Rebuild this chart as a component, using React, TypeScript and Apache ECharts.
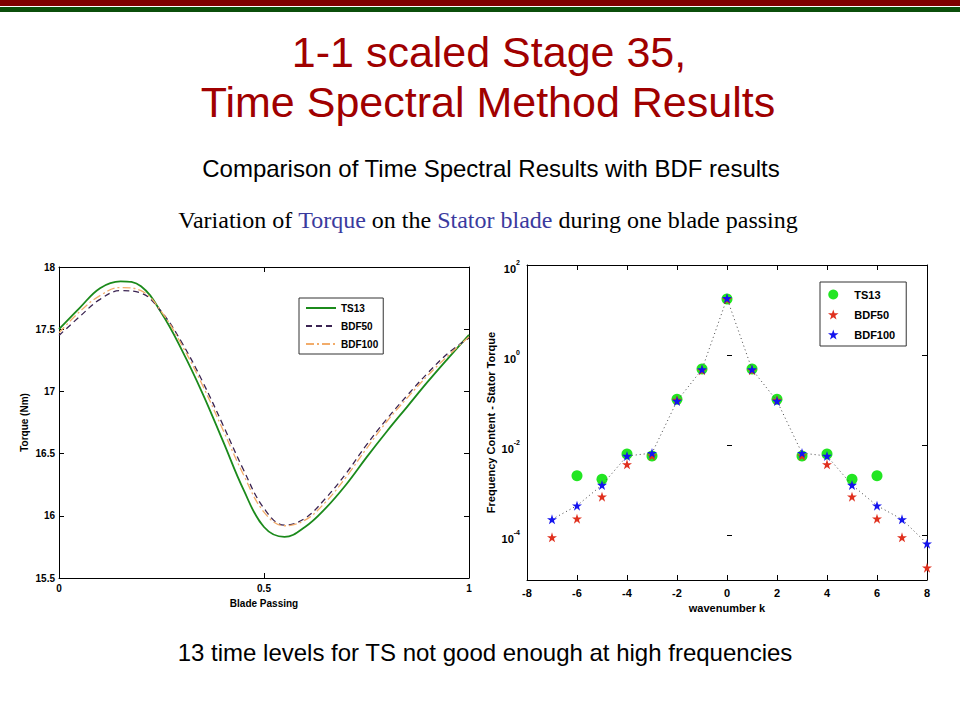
import React, { useEffect, useRef } from "react";
import * as echarts from "echarts";

// ---------- Left chart: torque over one blade passing ----------
const bladePassing = [0, 0.05, 0.1, 0.15, 0.2, 0.25, 0.3, 0.35, 0.4, 0.45, 0.5, 0.55, 0.6, 0.65, 0.7, 0.75, 0.8, 0.85, 0.9, 0.95, 1];
const torqueTS13 = [17.5, 17.67, 17.83, 17.885, 17.845, 17.63, 17.33, 16.985, 16.6, 16.21, 15.91, 15.83, 15.91, 16.06, 16.25, 16.47, 16.68, 16.88, 17.08, 17.27, 17.455];
const torqueBDF50 = [17.45, 17.6, 17.74, 17.81, 17.79, 17.64, 17.39, 17.08, 16.73, 16.37, 16.06, 15.925, 15.98, 16.14, 16.34, 16.57, 16.78, 16.97, 17.15, 17.31, 17.43];
const torqueBDF100 = [17.47, 17.64, 17.77, 17.835, 17.81, 17.64, 17.37, 17.05, 16.69, 16.33, 16.03, 15.92, 15.965, 16.11, 16.31, 16.54, 16.76, 16.95, 17.13, 17.29, 17.44];

// ---------- Right chart: frequency content ----------
const wavenumbersTS13 = [-6, -5, -4, -3, -2, -1, 0, 1, 2, 3, 4, 5, 6];
const spectrumTS13 = [2.08e-3, 1.73e-3, 6.3e-3, 5.7e-3, 0.1035, 0.489, 17.5, 0.489, 0.1035, 5.7e-3, 6.3e-3, 1.73e-3, 2.08e-3];
const wavenumbersBDF = [-7, -6, -5, -4, -3, -2, -1, 0, 1, 2, 3, 4, 5, 6, 7, 8];
const spectrumBDF50 = [8.87e-5, 2.31e-4, 7.1e-4, 3.72e-3, 5.8e-3, 0.1, 0.46, 17.3, 0.46, 0.1, 5.8e-3, 3.72e-3, 7.1e-4, 2.31e-4, 8.87e-5, 1.88e-5];
const spectrumBDF100 = [2.23e-4, 4.49e-4, 1.29e-3, 5.7e-3, 6.6e-3, 0.095, 0.48, 18.2, 0.48, 0.095, 6.6e-3, 5.7e-3, 1.29e-3, 4.49e-4, 2.23e-4, 6.42e-5];

// decade exponents of the log axis (1e-5 .. 1e2); ticks/labels drawn on the even ones from -4 up
const decadeExponents = ["-5", "-4", "-3", "-2", "-1", "0", "1", "2"];

const seriesNames = ["TS13", "BDF50", "BDF100"];

const SANS = '"Liberation Sans", Arial, Helvetica, sans-serif';
const SERIF = '"Liberation Serif", "Times New Roman", serif';
const STAR = "path://M50,0L61.2,34.5L97.6,34.5L68.2,55.9L79.4,90.5L50,69.1L20.6,90.5L31.8,55.9L2.4,34.5L38.8,34.5Z";

const zip = (xs: number[], ys: number[]) => xs.map((x, i) => [x, ys[i]]);

function frameAxis(extra: any) {
  return {
    axisLine: { show: true, onZero: false, lineStyle: { color: "#000", width: 1 } },
    axisTick: { show: true, inside: true, length: 5, lineStyle: { color: "#000", width: 1 } },
    splitLine: { show: false },
    ...extra,
  };
}

function buildOption() {
  const labelL = { fontSize: 10, fontWeight: "bold", color: "#000", fontFamily: SANS };
  const labelR = { fontSize: 11, fontWeight: "bold", color: "#000", fontFamily: SANS };
  const evenDecade = (_i: number, v: string) => Number(v) % 2 === 0 && Number(v) >= -4;
  const logRich = {
    b: { fontSize: 11, fontWeight: "bold", fontFamily: SANS, color: "#000", lineHeight: 12, padding: [8, 0, 0, 0] },
    s: { fontSize: 7, fontWeight: "bold", fontFamily: SANS, color: "#000", lineHeight: 8, verticalAlign: "top" },
  };

  return {
    animation: false,
    backgroundColor: "#ffffff",
    grid: [
      { left: 59, top: 267, width: 410, height: 311 },
      { left: 527, top: 265, width: 400, height: 315 },
    ],
    xAxis: [
      frameAxis({
        type: "value", gridIndex: 0, position: "bottom", min: 0, max: 1, interval: 0.5,
        axisLabel: { ...labelL, margin: 5 },
        name: "Blade Passing", nameLocation: "middle", nameGap: 20,
        nameTextStyle: { ...labelL },
      }),
      frameAxis({
        type: "value", gridIndex: 0, position: "top", min: 0, max: 1, interval: 0.5,
        axisLabel: { show: false },
      }),
      frameAxis({
        type: "value", gridIndex: 1, position: "bottom", min: -8, max: 8, interval: 2,
        axisLabel: { ...labelR, margin: 7 },
        name: "wavenumber k", nameLocation: "middle", nameGap: 22,
        nameTextStyle: { ...labelR },
      }),
      frameAxis({
        type: "value", gridIndex: 1, position: "top", min: -8, max: 8, interval: 2,
        axisLabel: { show: false },
      }),
    ],
    yAxis: [
      frameAxis({
        type: "value", gridIndex: 0, position: "left", min: 15.5, max: 18, interval: 0.5,
        axisLabel: { ...labelL, margin: 4 },
        name: "Torque (Nm)", nameLocation: "middle", nameGap: 30,
        nameTextStyle: { ...labelL },
      }),
      frameAxis({
        type: "value", gridIndex: 0, position: "right", min: 15.5, max: 18, interval: 0.5,
        axisLabel: { show: false },
      }),
      // log axis that positions the data
      frameAxis({
        type: "log", logBase: 10, gridIndex: 1, position: "left", min: 1e-5, max: 100,
        axisTick: { show: false },
        axisLabel: { show: false },
        name: "Frequency Content - Stator Torque", nameLocation: "middle", nameGap: 31,
        nameTextStyle: { ...labelR },
      }),
      // decade ticks + labels (left)
      {
        type: "category", gridIndex: 1, position: "left", data: decadeExponents, boundaryGap: false,
        axisLine: { show: false },
        axisTick: { show: true, inside: true, length: 5, interval: evenDecade, lineStyle: { color: "#000" } },
        axisLabel: { margin: 7, interval: evenDecade, formatter: (v: string) => `{b|10}{s|${v}}`, rich: logRich },
        splitLine: { show: false },
      },
      // decade ticks (right)
      {
        type: "category", gridIndex: 1, position: "right", data: decadeExponents, boundaryGap: false,
        axisLine: { show: true, onZero: false, lineStyle: { color: "#000" } },
        axisTick: { show: true, inside: true, length: 5, interval: evenDecade, lineStyle: { color: "#000" } },
        axisLabel: { show: false },
        splitLine: { show: false },
      },
    ],
    legend: [
      {
        left: 299, top: 298, orient: "vertical",
        padding: [5, 5, 5, 6], itemGap: 8, itemWidth: 30, itemHeight: 10,
        borderColor: "#333", borderWidth: 1, backgroundColor: "#fff",
        selectedMode: false,
        itemStyle: { opacity: 0 },
        textStyle: { fontSize: 10, fontWeight: "bold", color: "#000", fontFamily: SANS },
        data: seriesNames,
      },
      {
        left: 820, top: 282, orient: "vertical",
        padding: [7, 11, 6, 8], itemGap: 9, itemWidth: 32, itemHeight: 10,
        borderColor: "#333", borderWidth: 1, backgroundColor: "#fff",
        selectedMode: false,
        textStyle: { fontSize: 11, fontWeight: "bold", color: "#000", fontFamily: SANS },
        formatter: (n: string) => n.slice(2),
        data: [
          { name: "r:" + seriesNames[0], icon: "circle" },
          { name: "r:" + seriesNames[1], icon: STAR },
          { name: "r:" + seriesNames[2], icon: STAR },
        ],
      },
    ],
    series: [
      {
        name: seriesNames[0], type: "line", xAxisIndex: 0, yAxisIndex: 0, smooth: 0.4,
        symbol: "none", data: zip(bladePassing, torqueTS13), z: 3,
        lineStyle: { color: "#1b8a1b", width: 1.8, type: "solid" },
        itemStyle: { color: "#1b8a1b" },
      },
      {
        name: seriesNames[1], type: "line", xAxisIndex: 0, yAxisIndex: 0, smooth: 0.4,
        symbol: "none", data: zip(bladePassing, torqueBDF50), z: 4,
        lineStyle: { color: "#3b2452", width: 1.3, type: [6, 4] },
        itemStyle: { color: "#3b2452" },
      },
      {
        name: seriesNames[2], type: "line", xAxisIndex: 0, yAxisIndex: 0, smooth: 0.4,
        symbol: "none", data: zip(bladePassing, torqueBDF100), z: 5,
        lineStyle: { color: "#f2ac6a", width: 1.3, type: [8, 3, 2, 3] },
        itemStyle: { color: "#f2ac6a" },
      },
      {
        name: "r:" + seriesNames[0], type: "scatter", xAxisIndex: 2, yAxisIndex: 2,
        symbol: "circle", symbolSize: 11, data: zip(wavenumbersTS13, spectrumTS13), z: 3,
        itemStyle: { color: "#22e622", opacity: 1 },
      },
      {
        name: "r:" + seriesNames[1], type: "scatter", xAxisIndex: 2, yAxisIndex: 2,
        symbol: STAR, symbolSize: 10, data: zip(wavenumbersBDF, spectrumBDF50), z: 4,
        itemStyle: { color: "#e0301e", opacity: 1 },
      },
      {
        name: "r:" + seriesNames[2], type: "line", xAxisIndex: 2, yAxisIndex: 2,
        symbol: STAR, symbolSize: 10, showSymbol: true, data: zip(wavenumbersBDF, spectrumBDF100), z: 5,
        lineStyle: { color: "#444", width: 1, type: [1, 3] },
        itemStyle: { color: "#1414ee" },
      },
    ],
    graphic: [
      { type: "rect", shape: { x: 0, y: 0, width: 960, height: 6 }, style: { fill: "#800000" }, silent: true },
      { type: "rect", shape: { x: 0, y: 7, width: 960, height: 5 }, style: { fill: "#0b4f0b" }, silent: true },
      {
        type: "text", x: 489, y: 52,
        style: { text: "1-1 scaled Stage 35,", fill: "#a00000", fontSize: 43, fontFamily: SANS, align: "center", verticalAlign: "middle", textAlign: "center", textVerticalAlign: "middle" },
      },
      {
        type: "text", x: 488, y: 102,
        style: { text: "Time Spectral Method Results", fill: "#a00000", fontSize: 43, fontFamily: SANS, align: "center", verticalAlign: "middle", textAlign: "center", textVerticalAlign: "middle" },
      },
      {
        type: "text", x: 491, y: 168,
        style: { text: "Comparison of Time Spectral Results with BDF results", fill: "#000", fontSize: 24, fontFamily: SANS, align: "center", verticalAlign: "middle", textAlign: "center", textVerticalAlign: "middle" },
      },
      {
        type: "text", x: 488, y: 220,
        style: {
          text: "{a|Variation of }{b|Torque}{a| on the }{b|Stator blade}{a| during one blade passing}",
          rich: {
            a: { fill: "#000", fontSize: 24, fontFamily: SERIF },
            b: { fill: "#3a3a9e", fontSize: 24, fontFamily: SERIF },
          },
          fontSize: 24, fontFamily: SERIF,
          align: "center", verticalAlign: "middle", textAlign: "center", textVerticalAlign: "middle",
        },
      },
      {
        type: "text", x: 485, y: 652,
        style: { text: "13 time levels for TS not good enough at high frequencies", fill: "#000", fontSize: 24, fontFamily: SANS, align: "center", verticalAlign: "middle", textAlign: "center", textVerticalAlign: "middle" },
      },
    ],
  };
}

export default function App() {
  const ref = useRef<HTMLDivElement>(null);
  useEffect(() => {
    if (!ref.current) return;
    const chart = echarts.init(ref.current, null, { renderer: "svg" });
    chart.setOption(buildOption() as any);
    return () => chart.dispose();
  }, []);
  return (
    <div
      ref={ref}
      style={{ position: "fixed", left: 0, top: 0, width: 960, height: 720, background: "#fff" }}
    />
  );
}
